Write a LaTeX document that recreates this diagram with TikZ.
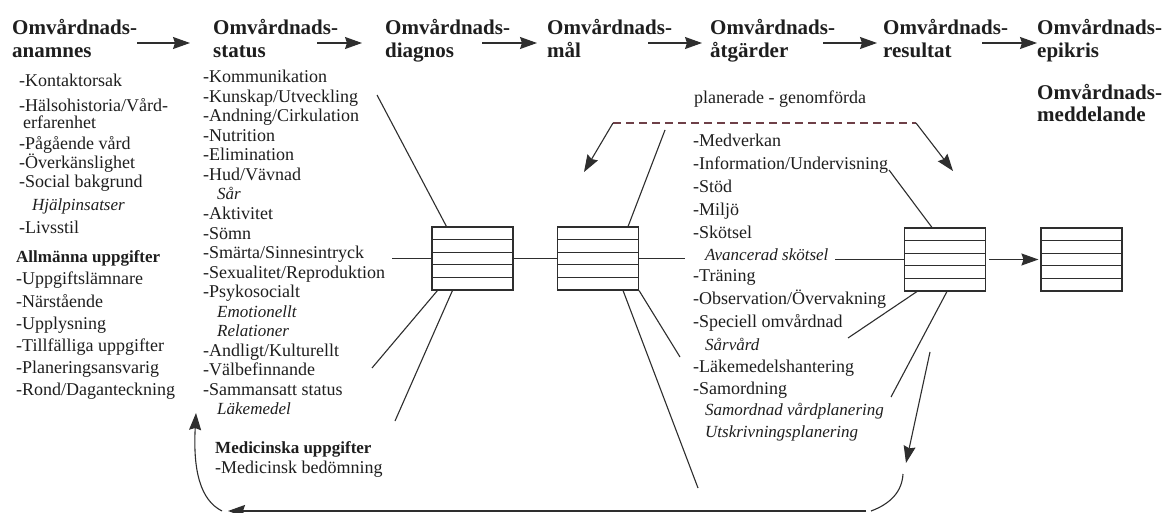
\documentclass[tikz,border=0pt]{standalone}
\usepackage{fontspec}
\setmainfont{Liberation Serif}
\usetikzlibrary{arrows.meta,calc}
\definecolor{ink}{HTML}{1E1E1E}
\definecolor{lc}{HTML}{2E2E2E}
\definecolor{dl}{HTML}{6E4048}
\begin{document}
\begin{tikzpicture}[x=1pt,y=-1pt,
  hd/.style={anchor=base west,inner sep=0pt,text=ink,font=\fontsize{21}{24}\selectfont\bfseries},
  tx/.style={anchor=base west,inner sep=0pt,text=ink,font=\fontsize{18}{20}\selectfont},
  itx/.style={tx,font=\fontsize{17}{20}\selectfont\itshape},
  sub/.style={tx,font=\fontsize{17}{20}\selectfont\bfseries},
  ln/.style={draw=lc,line width=1.1pt},
  arr/.style={ln,-{Stealth[length=17pt,width=12pt,inset=2pt]}},
  rec/.style={draw=lc,line width=1.1pt,minimum width=81pt,minimum height=63pt,inner sep=0pt,
    path picture={\foreach \f in {0.2,0.4,0.6,0.8}{\draw[lc,line width=1.1pt]
      ($(path picture bounding box.north west)!\f!(path picture bounding box.south west)$) --
      ($(path picture bounding box.north east)!\f!(path picture bounding box.south east)$);}}}
]
\fill[white] (0,0) rectangle (1169,513);
\useasboundingbox (0,0) rectangle (1169,513);

% ---------- headings ----------
\node[hd] (h1a) at (12,35) {Omvårdnads-};
\node[hd] (h1b) at (12,58) {anamnes};
\node[hd] (h2a) at (213,35) {Omvårdnads-};
\node[hd] (h2b) at (213,58) {status};
\node[hd] (h3a) at (385,35) {Omvårdnads-};
\node[hd] (h3b) at (385,58) {diagnos};
\node[hd] (h4a) at (547,35) {Omvårdnads-};
\node[hd] (h4b) at (547,58) {mål};
\node[hd] (h5a) at (710,35) {Omvårdnads-};
\node[hd] (h5b) at (710,58) {åtgärder};
\node[hd] (h6a) at (883,35) {Omvårdnads-};
\node[hd] (h6b) at (883,58) {resultat};
\node[hd] (h7a) at (1037,35) {Omvårdnads-};
\node[hd] (h7b) at (1037,58) {epikris};
\node[hd] (h8a) at (1037,100) {Omvårdnads-};
\node[hd] (h8b) at (1037,122) {meddelande};

\coordinate (a1s) at (137,43); \coordinate (a1e) at (190,43);
\coordinate (a2s) at (317,43); \coordinate (a2e) at (362,43);
\coordinate (a3s) at (482,43); \coordinate (a3e) at (537,43);
\coordinate (a4s) at (648,43); \coordinate (a4e) at (702,43);
\coordinate (a5s) at (823,43); \coordinate (a5e) at (877,43);
\coordinate (a6s) at (982,43); \coordinate (a6e) at (1037,43);
\foreach \i in {1,...,6}{\draw[arr] (a\i s) -- (a\i e);}

% ---------- column 1 ----------
\node[tx]  (k1)  at (19,87)  {-Kontaktorsak};
\node[tx]  (k2)  at (19,112) {-Hälsohistoria/Vård-};
\node[tx]  (k3)  at (23,129) {erfarenhet};
\node[tx]  (k4)  at (19,150) {-Pågående vård};
\node[tx]  (k5)  at (19,169) {-Överkänslighet};
\node[tx]  (k6)  at (19,188) {-Social bakgrund};
\node[itx] (k7)  at (32,210) {Hjälpinsatser};
\node[tx]  (k8)  at (19,233) {-Livsstil};
\node[sub] (k9)  at (16,262) {Allmänna uppgifter};
\node[tx]  (k10) at (16,284) {-Uppgiftslämnare};
\node[tx]  (k11) at (16,307) {-Närstående};
\node[tx]  (k12) at (16,329) {-Upplysning};
\node[tx]  (k13) at (16,351) {-Tillfälliga uppgifter};
\node[tx]  (k14) at (16,373) {-Planeringsansvarig};
\node[tx]  (k15) at (16,395) {-Rond/Daganteckning};

% ---------- column 2 ----------
\node[tx]  (s0)  at (203,83)    {-Kommunikation};
\node[tx]  (s1)  at (203,102.5) {-Kunskap/Utveckling};
\node[tx]  (s2)  at (203,122)   {-Andning/Cirkulation};
\node[tx]  (s3)  at (203,141.5) {-Nutrition};
\node[tx]  (s4)  at (203,161)   {-Elimination};
\node[tx]  (s5)  at (203,180.5) {-Hud/Vävnad};
\node[itx] (s6)  at (217,200)   {Sår};
\node[tx]  (s7)  at (203,219.5) {-Aktivitet};
\node[tx]  (s8)  at (203,239)   {-Sömn};
\node[tx]  (s9)  at (203,258.5) {-Smärta/Sinnesintryck};
\node[tx]  (s10) at (203,278)   {-Sexualitet/Reproduktion};
\node[tx]  (s11) at (203,297.5) {-Psykosocialt};
\node[itx] (s12) at (217,317)   {Emotionellt};
\node[itx] (s13) at (217,336.5) {Relationer};
\node[tx]  (s14) at (203,356)   {-Andligt/Kulturellt};
\node[tx]  (s15) at (203,375.5) {-Välbefinnande};
\node[tx]  (s16) at (203,395)   {-Sammansatt status};
\node[itx] (s17) at (217,414.5) {Läkemedel};
\node[sub] (m1)  at (215,453)   {Medicinska uppgifter};
\node[tx]  (m2)  at (215,473)   {-Medicinsk bedömning};

% ---------- column 3 ----------
\node[tx]  (pg)  at (694,104) {planerade - genomförda};
\node[tx]  (t0)  at (693,147) {-Medverkan};
\node[tx]  (t1)  at (693,170) {-Information/Undervisning};
\node[tx]  (t2)  at (693,193) {-Stöd};
\node[tx]  (t3)  at (693,215) {-Miljö};
\node[tx]  (t4)  at (693,238) {-Skötsel};
\node[itx] (t5)  at (705,260) {Avancerad skötsel};
\node[tx]  (t6)  at (693,281) {-Träning};
\node[tx]  (t7)  at (693,304) {-Observation/Övervakning};
\node[tx]  (t8)  at (693,327) {-Speciell omvårdnad};
\node[itx] (t9)  at (705,350) {Sårvård};
\node[tx]  (t10) at (693,372) {-Läkemedelshantering};
\node[tx]  (t11) at (693,394) {-Samordning};
\node[itx] (t12) at (705,415) {Samordnad vårdplanering};
\node[itx] (t13) at (705,437) {Utskrivningsplanering};

% ---------- boxes ----------
\node[rec] (b1) at (472.5,258.5) {};
\node[rec] (b2) at (598,258.5) {};
\node[rec] (b3) at (945,259.5) {};
\node[rec] (b4) at (1081.5,259.5) {};

% ---------- connector ends ----------
\coordinate (c1) at (377,95);
\coordinate (c2) at (392,258.5);
\coordinate (c3) at (372,368);
\coordinate (c4) at (395,421);
\coordinate (c5) at (665,130);
\coordinate (c6) at (698,488);
\coordinate (c7) at (680,357);
\coordinate (c8) at (685,258.5);
\coordinate (c9) at (835,259.5);
\coordinate (c10) at (889,170);
\coordinate (c11) at (848,338);
\coordinate (c12) at (891,397);

\draw[ln] (c1) -- ([xshift=15pt]b1.north west);
\draw[ln] (c2) -- (b1.west);
\draw[ln] (c3) -- ([xshift=6pt]b1.south west);
\draw[ln] (c4) -- ([xshift=21pt]b1.south west);
\draw[ln] (b1.east) -- (b2.west);
\draw[ln] (c5) -- ([xshift=-11pt]b2.north east);
\draw[ln] (b2.east) -- (c8);
\draw[ln] ([xshift=-16pt]b2.south east) -- (c6);
\draw[ln] (b2.south east) -- (c7);
\draw[ln] (c9) -- (b3.west);
\draw[ln] (c10) -- ([xshift=28pt]b3.north west);
\draw[ln] ([xshift=13pt]b3.south west) -- (c11);
\draw[ln] ([xshift=43pt]b3.south west) -- (c12);
\draw[arr] ([xshift=3pt]b3.east) -- ([xshift=-2pt]b4.west);

% ---------- dashed feedback ----------
\coordinate (d1) at (613,123);
\coordinate (d2) at (916,123);
\coordinate (d3) at (584,172);
\coordinate (d4) at (953,171);
\draw[draw=dl,line width=1.1pt,dash pattern=on 8pt off 5pt] (d1) -- (d2);
\draw[arr] (d1) -- (d3);
\draw[arr] (d2) -- (d4);

% ---------- loop back ----------
\coordinate (l1) at (930,352);
\coordinate (l2) at (906,463);
\coordinate (l3) at (903,474);
\coordinate (l4) at (871,511);
\coordinate (l5) at (866,511);
\coordinate (l6) at (228,511);
\coordinate (l7) at (222,511);
\coordinate (l8) at (196,413);
\draw[arr] (l1) -- (l2);
\draw[ln] (l3) .. controls (902,492) and (890,504) .. (l4);
\draw[arr,line width=1.5pt] (l5) -- (l6);
\draw[arr] (l7) .. controls (200,500) and (193,470) .. (l8);
\end{tikzpicture}
\end{document}
